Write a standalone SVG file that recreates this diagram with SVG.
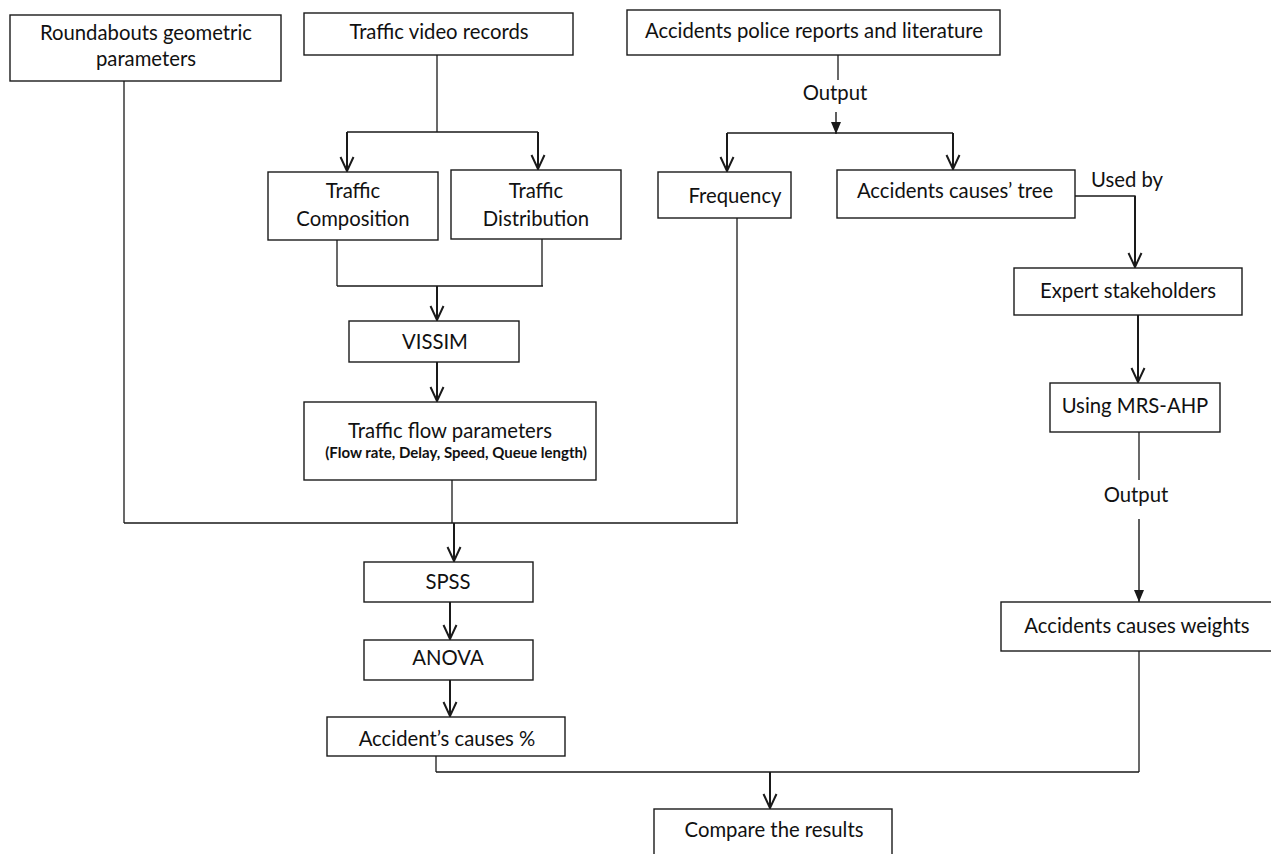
<svg xmlns="http://www.w3.org/2000/svg" width="1271" height="854" viewBox="0 0 1271 854">
  <style>
    .box { fill: #ffffff; stroke: #1a1a1a; stroke-width: 1.4; }
    .t { font-family: Lato, "Open Sans", sans-serif; font-size: 20.3px; fill: #111; text-anchor: middle; dominant-baseline: middle; }
    .s { font-family: Lato, "Open Sans", sans-serif; font-size: 15px; font-weight: bold; fill: #111; text-anchor: middle; dominant-baseline: middle; }
    .ln { fill: none; stroke: #1a1a1a; stroke-width: 1.3; }
    .arr { fill: none; stroke: #1a1a1a; stroke-width: 2; marker-end: url(#open); }
    .arrf { fill: none; stroke: #1a1a1a; stroke-width: 1.4; marker-end: url(#solid); }
  </style>
  <defs>
    <!-- open V head, drawn pointing along +x -->
    <marker id="open" viewBox="0 0 16 16" refX="15" refY="8" markerWidth="16" markerHeight="16" markerUnits="userSpaceOnUse" orient="auto">
      <path d="M1,1.5 L15,8 L1,14.5" fill="none" stroke="#1a1a1a" stroke-width="2"/>
    </marker>
    <!-- small filled head -->
    <marker id="solid" viewBox="0 0 12 12" refX="12" refY="6" markerWidth="12" markerHeight="12" markerUnits="userSpaceOnUse" orient="auto">
      <path d="M0,1 L12,6 L0,11 Z" fill="#1a1a1a"/>
    </marker>
  </defs>
  <rect width="1271" height="854" fill="#ffffff"/>

  <!-- connectors -->
  <g id="connectors">
    <!-- video records split -->
    <path class="ln" d="M437,55 V132 M347,132 H538"/>
    <path class="arr" d="M347,132 V171"/>
    <path class="arr" d="M538,132 V169"/>
    <!-- composition/distribution merge -->
    <path class="ln" d="M337,240 V286 M542,239 V286 M337,286 H543"/>
    <path class="arr" d="M437,286 V320"/>
    <path class="arr" d="M437,362 V401"/>
    <!-- inputs merge to SPSS -->
    <path class="ln" d="M124,81 V523 M737,218 V523 M452,480 V523 M124,523 H738"/>
    <path class="arr" d="M454,523 V561"/>
    <path class="arr" d="M450,602 V639"/>
    <path class="arr" d="M450,680 V716"/>
    <!-- police reports output -->
    <path class="ln" d="M838,55 V80"/>
    <path class="arrf" d="M836,112 V134"/>
    <path class="ln" d="M727,133 H953"/>
    <path class="arr" d="M727,133 V171"/>
    <path class="arr" d="M953,133 V169"/>
    <!-- used by -->
    <path class="ln" d="M1075,196 H1135 V230"/>
    <path class="arr" d="M1135,196 V267"/>
    <path class="arr" d="M1138,315 V382"/>
    <path class="ln" d="M1139,432 V480"/>
    <path class="arrf" d="M1139,519 V602"/>
    <!-- final comparison -->
    <path class="ln" d="M1139,651 V772 M436,756 V772 M436,772 H1139"/>
    <path class="arr" d="M770,772 V808"/>
    <!-- labels -->
    <text class="t" x="835" y="95">Output</text>
    <text class="t" x="1127" y="182">Used by</text>
    <text class="t" x="1136" y="497">Output</text>
  </g>

  <g id="n-roundabouts">
    <rect class="box" x="10" y="15" width="271" height="66"/>
    <text class="t" x="146" y="35">Roundabouts geometric</text>
    <text class="t" x="146" y="61">parameters</text>
  </g>
  <g id="n-video">
    <rect class="box" x="304" y="13" width="269" height="42"/>
    <text class="t" x="439" y="34">Traffic video records</text>
  </g>
  <g id="n-police">
    <rect class="box" x="627" y="10" width="373" height="45"/>
    <text class="t" x="814" y="33">Accidents police reports and literature</text>
  </g>
  <g id="n-composition">
    <rect class="box" x="268" y="172" width="170" height="68"/>
    <text class="t" x="353" y="193">Traffic</text>
    <text class="t" x="353" y="221">Composition</text>
  </g>
  <g id="n-distribution">
    <rect class="box" x="451" y="170" width="170" height="69"/>
    <text class="t" x="536" y="193">Traffic</text>
    <text class="t" x="536" y="221">Distribution</text>
  </g>
  <g id="n-frequency">
    <rect class="box" x="658" y="172" width="133" height="46"/>
    <text class="t" x="735" y="198">Frequency</text>
  </g>
  <g id="n-tree">
    <rect class="box" x="837" y="170" width="238" height="48"/>
    <text class="t" x="955" y="193">Accidents causes’ tree</text>
  </g>
  <g id="n-vissim">
    <rect class="box" x="349" y="321" width="170" height="41"/>
    <text class="t" x="435" y="344">VISSIM</text>
  </g>
  <g id="n-flow">
    <rect class="box" x="304" y="402" width="292" height="78"/>
    <text class="t" x="450" y="433">Traffic flow parameters</text>
    <text class="s" x="456" y="454">(Flow rate, Delay, Speed, Queue length)</text>
  </g>
  <g id="n-expert">
    <rect class="box" x="1014" y="268" width="228" height="47"/>
    <text class="t" x="1128" y="293">Expert stakeholders</text>
  </g>
  <g id="n-mrsahp">
    <rect class="box" x="1050" y="383" width="170" height="49"/>
    <text class="t" x="1135" y="408">Using MRS-AHP</text>
  </g>
  <g id="n-spss">
    <rect class="box" x="364" y="562" width="169" height="40"/>
    <text class="t" x="448" y="584">SPSS</text>
  </g>
  <g id="n-anova">
    <rect class="box" x="364" y="640" width="169" height="40"/>
    <text class="t" x="448" y="660">ANOVA</text>
  </g>
  <g id="n-causes-pct">
    <rect class="box" x="327" y="717" width="238" height="39"/>
    <text class="t" x="447" y="741">Accident’s causes %</text>
  </g>
  <g id="n-weights">
    <rect class="box" x="1001" y="602" width="275" height="49"/>
    <text class="t" x="1137" y="628">Accidents causes weights</text>
  </g>
  <g id="n-compare">
    <rect class="box" x="654" y="809" width="238" height="50"/>
    <text class="t" x="774" y="832">Compare the results</text>
  </g>
</svg>
